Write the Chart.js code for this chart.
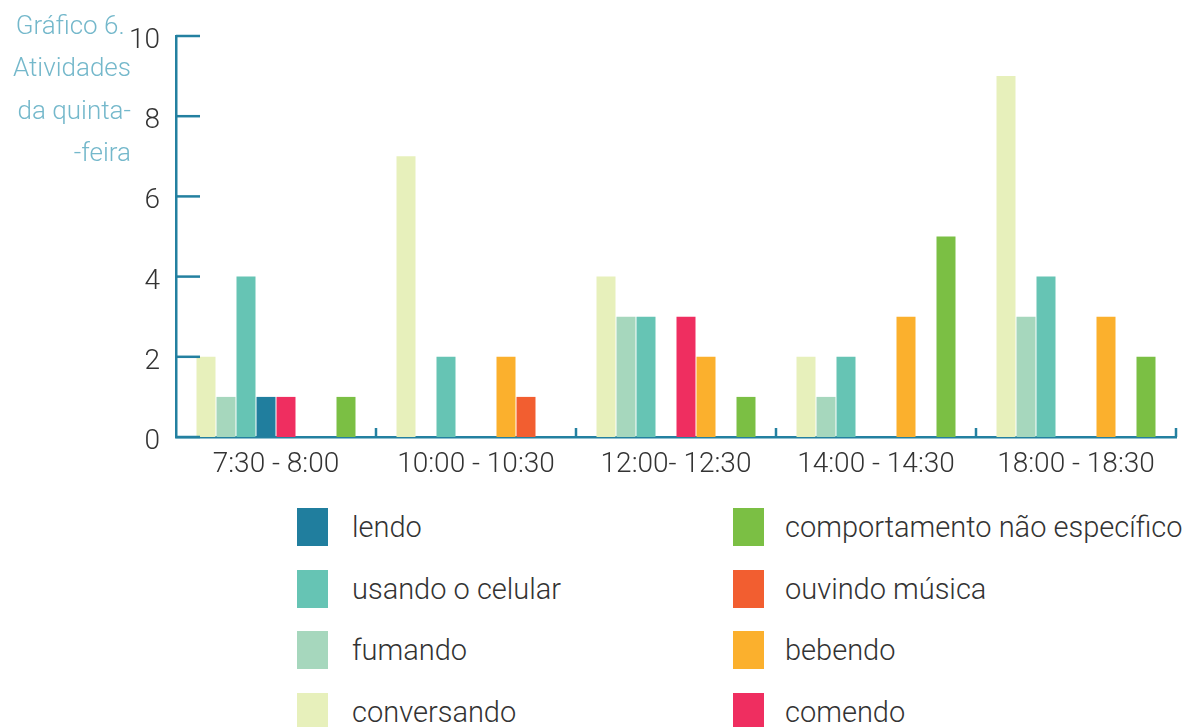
<!DOCTYPE html>
<html>
<head>
<meta charset="utf-8">
<script src="https://cdn.jsdelivr.net/npm/chart.js@4/dist/chart.umd.min.js"></script>
<style>
  html, body { margin: 0; padding: 0; background: #fff; }
  body { width: 1182px; height: 727px; position: relative; overflow: hidden; font-family: Roboto, "Open Sans", sans-serif; }
  #wrap { position: absolute; left: 0; top: 0; width: 1182px; height: 480px; }
  #title { position: absolute; right: calc(1182px - 131px); top: 4px; text-align: right; color: #74b8cb; font-size: 26px; font-weight: 300; line-height: 42.3px; white-space: nowrap; }
  .legend-item { position: absolute; display: flex; align-items: center; height: 38px; color: #333; font-size: 29px; font-weight: 300; white-space: nowrap; }
  .legend-item .sw { width: 31px; height: 38px; flex: none; }
</style>
</head>
<body>
<div id="wrap"><canvas id="c" width="1182" height="480"></canvas></div>
<div id="title"></div>
<div id="legend"></div>
<script>
const titleLines = ["Gráfico 6.\u00a0", "Atividades", "da quinta-", "-feira"];
const categories = ["7:30 - 8:00", "10:00 - 10:30", "12:00- 12:30", "14:00 - 14:30", "18:00 - 18:30"];
const yTicks = [0, 2, 4, 6, 8, 10];

const conversando = [2, 7, 4, 2, 9];
const fumando = [1, 0, 3, 1, 3];
const usandoCelular = [4, 2, 3, 2, 4];
const lendo = [1, 0, 0, 0, 0];
const comendo = [1, 0, 3, 0, 0];
const bebendo = [0, 2, 2, 3, 3];
const ouvindoMusica = [0, 1, 0, 0, 0];
const comportamento = [1, 0, 1, 5, 2];

const series = [
  { label: "conversando", data: conversando, color: "#e7f0bb" },
  { label: "fumando", data: fumando, color: "#a6d7bd" },
  { label: "usando o celular", data: usandoCelular, color: "#66c4b4" },
  { label: "lendo", data: lendo, color: "#207e9e" },
  { label: "comendo", data: comendo, color: "#ef2e60" },
  { label: "bebendo", data: bebendo, color: "#fbb02d" },
  { label: "ouvindo música", data: ouvindoMusica, color: "#f25e30" },
  { label: "comportamento não específico", data: comportamento, color: "#7bbf44" }
];

// legend layout (two columns, as in the reference)
const legendColumns = [
  ["lendo", "usando o celular", "fumando", "conversando"],
  ["comportamento não específico", "ouvindo música", "bebendo", "comendo"]
];

document.getElementById('title').innerHTML = titleLines.join('<br>');

const legendEl = document.getElementById('legend');
const colX = [297, 733];
const colGap = [24, 21];
const rowY = [508, 570, 631, 693];
legendColumns.forEach((col, ci) => {
  col.forEach((name, ri) => {
    const s = series.find(d => d.label === name);
    const item = document.createElement('div');
    item.className = 'legend-item';
    item.style.left = colX[ci] + 'px';
    item.style.top = rowY[ri] + 'px';
    const sw = document.createElement('span');
    sw.className = 'sw';
    sw.style.background = s.color;
    sw.style.marginRight = colGap[ci] + 'px';
    const tx = document.createElement('span');
    tx.textContent = s.label;
    item.appendChild(sw);
    item.appendChild(tx);
    legendEl.appendChild(item);
  });
});

const AXIS = '#2380a0';

const innerTicks = {
  id: 'innerTicks',
  afterDraw(chart) {
    const ctx = chart.ctx;
    const x = chart.scales.x, y = chart.scales.y;
    const area = chart.chartArea;
    ctx.save();
    ctx.strokeStyle = AXIS;
    ctx.lineWidth = 2.5;
    yTicks.forEach(v => {
      const py = y.getPixelForValue(v);
      ctx.beginPath();
      ctx.moveTo(area.left, py);
      ctx.lineTo(area.left + 24, py);
      ctx.stroke();
    });
    const n = categories.length;
    for (let i = 1; i <= n; i++) {
      let px;
      if (i < n) px = (x.getPixelForValue(i - 1) + x.getPixelForValue(i)) / 2;
      else px = area.right;
      ctx.beginPath();
      ctx.moveTo(px, area.bottom);
      ctx.lineTo(px, area.bottom - 9);
      ctx.stroke();
    }
    ctx.restore();
  }
};

new Chart(document.getElementById('c'), {
  type: 'bar',
  data: {
    labels: categories,
    datasets: series.map(s => ({
      label: s.label,
      data: s.data,
      backgroundColor: s.color,
      borderWidth: 0,
      barPercentage: 0.95,
      categoryPercentage: 0.8
    }))
  },
  options: {
    responsive: false,
    animation: false,
    devicePixelRatio: 1,
    layout: { padding: { top: 36, right: 6, left: 0, bottom: 0 } },
    plugins: { legend: { display: false }, tooltip: { enabled: false }, title: { display: false } },
    scales: {
      x: {
        grid: { display: false, drawTicks: false },
        border: { display: true, color: AXIS, width: 2.5 },
        ticks: { color: '#333', font: { family: 'Roboto', size: 28, weight: '300' }, padding: 11, maxRotation: 0, autoSkip: false },
        afterFit(s) { s.height = 43; }
      },
      y: {
        min: 0, max: 10,
        afterBuildTicks(s) { s.ticks = yTicks.map(v => ({ value: v })); },
        grid: { display: false, drawTicks: false },
        border: { display: true, color: AXIS, width: 2.5 },
        ticks: { color: '#333', font: { family: 'Roboto', size: 28, weight: '300', lineHeight: 1.0 }, padding: 16, labelOffset: 5 },
        afterFit(s) { s.width = 176; }
      }
    }
  },
  plugins: [innerTicks]
});
</script>
</body>
</html>
